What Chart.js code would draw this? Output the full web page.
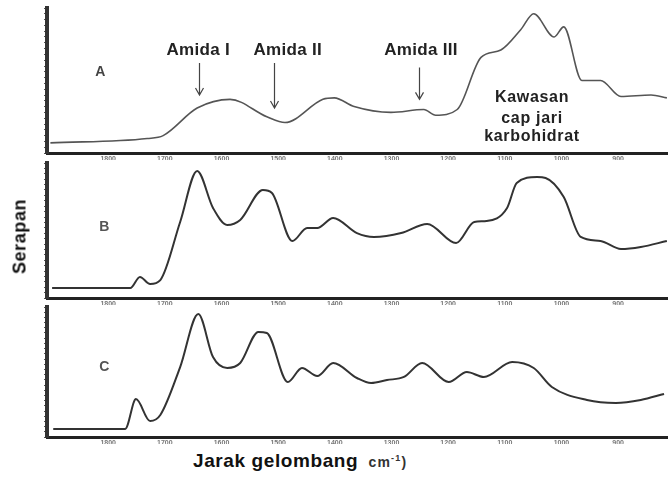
<!DOCTYPE html>
<html>
<head>
<meta charset="utf-8">
<script src="https://cdn.jsdelivr.net/npm/chart.js@4"></script>
<style>
  body { margin: 0; background: #fff; width: 668px; height: 477px; overflow: hidden; position: relative; }
  canvas { position: absolute; left: 0; }
  .ttl { position: absolute; font-family: 'Liberation Sans', Arial, sans-serif; font-weight: bold; color: #111; white-space: nowrap; }
</style>
</head>
<body>
<canvas id="chartA" width="668" height="160" style="top:0px"></canvas>
<canvas id="chartB" width="668" height="150" style="top:155px"></canvas>
<canvas id="chartC" width="668" height="144" style="top:300px"></canvas>
<div class="ttl" style="left:-25px; top:226px; font-size:18px; letter-spacing:0.6px; transform:rotate(-90deg); width:90px; text-align:center;">Serapan</div>
<div class="ttl" style="left:193px; top:450px; font-size:19px; letter-spacing:0.6px;">Jarak gelombang<span style="font-size:14px; color:#333; letter-spacing:1.2px;">&nbsp;&nbsp;cm<sup style="font-size:9px">-1</sup>)</span></div>
<script>
// wavenumber (cm-1) and absorbance, per spectrum
const wnA = [1902, 1731, 1703, 1643, 1585, 1520, 1488, 1421, 1401, 1366, 1301, 1243, 1222, 1184, 1142, 1107, 1072, 1049, 1013, 996, 964, 931, 895, 842, 814];
const absA = [0.07, 0.10, 0.12, 0.31, 0.37, 0.25, 0.21, 0.37, 0.38, 0.32, 0.28, 0.30, 0.26, 0.30, 0.66, 0.71, 0.85, 0.96, 0.80, 0.87, 0.50, 0.50, 0.39, 0.40, 0.38];

const wnB = [1899, 1761, 1744, 1726, 1708, 1673, 1643, 1615, 1590, 1567, 1527, 1511, 1475, 1449, 1431, 1403, 1361, 1331, 1283, 1237, 1186, 1154, 1132, 1096, 1079, 1043, 1028, 996, 966, 931, 895, 860, 814];
const absB = [0.074, 0.074, 0.156, 0.104, 0.133, 0.563, 0.941, 0.667, 0.541, 0.578, 0.80, 0.778, 0.422, 0.519, 0.519, 0.593, 0.481, 0.452, 0.481, 0.548, 0.407, 0.563, 0.570, 0.667, 0.852, 0.896, 0.889, 0.748, 0.452, 0.422, 0.363, 0.378, 0.422];

const wnC = [1897, 1770, 1751, 1726, 1708, 1673, 1641, 1615, 1590, 1567, 1535, 1520, 1483, 1458, 1431, 1403, 1361, 1336, 1308, 1278, 1246, 1199, 1167, 1137, 1087, 1049, 1017, 955, 904, 860, 819];
const absC = [0.062, 0.062, 0.292, 0.123, 0.169, 0.538, 0.946, 0.615, 0.531, 0.569, 0.808, 0.80, 0.423, 0.531, 0.469, 0.569, 0.454, 0.415, 0.438, 0.462, 0.569, 0.423, 0.50, 0.462, 0.577, 0.531, 0.385, 0.285, 0.262, 0.285, 0.331];

const xTicks = [1800, 1700, 1600, 1500, 1400, 1300, 1200, 1100, 1000, 900];

const FONT = "'Liberation Sans', Arial, sans-serif";

// text + arrows drawn in data coordinates
const notes = {
  id: 'notes',
  afterDatasetsDraw(chart, args, opts) {
    const ctx = chart.ctx;
    const x = chart.scales.x, y = chart.scales.y;
    ctx.save();
    ctx.textAlign = 'center';
    ctx.textBaseline = 'middle';
    (opts.texts || []).forEach(t => {
      ctx.font = t.font;
      ctx.letterSpacing = t.spacing || '0px';
      ctx.fillStyle = t.color || '#222';
      ctx.fillText(t.text, x.getPixelForValue(t.wn), y.getPixelForValue(t.v));
    });
    ctx.strokeStyle = '#444';
    ctx.lineWidth = 1.2;
    (opts.arrows || []).forEach(a => {
      const px = Math.round(x.getPixelForValue(a.wn)) + 0.5;
      const y1 = y.getPixelForValue(a.from), y2 = y.getPixelForValue(a.to);
      ctx.beginPath();
      ctx.moveTo(px, y1);
      ctx.lineTo(px, y2);
      ctx.moveTo(px - 4, y2 - 7);
      ctx.lineTo(px, y2);
      ctx.lineTo(px + 4, y2 - 7);
      ctx.stroke();
    });
    ctx.restore();
  }
};

function makeChart(id, wn, abs, padTop, lineColor, lineWidth, noteOpts) {
  const pts = wn.map((w, i) => ({ x: w, y: abs[i] }));
  return new Chart(document.getElementById(id), {
    type: 'line',
    data: {
      datasets: [{
        data: pts,
        borderColor: lineColor,
        borderWidth: lineWidth,
        pointRadius: 0,
        fill: false,
        cubicInterpolationMode: 'monotone'
      }]
    },
    options: {
      responsive: false,
      animation: false,
      layout: { padding: { top: padTop, left: 0, right: 0, bottom: 0 } },
      plugins: { legend: { display: false }, tooltip: { enabled: false }, notes: noteOpts },
      scales: {
        x: {
          type: 'linear',
          reverse: true,
          min: 812,
          max: 1908,
          afterBuildTicks: s => { s.ticks = xTicks.map(v => ({ value: v })); },
          afterFit: s => { s.height = 7; },
          ticks: {
            font: { family: FONT, size: 7, weight: 'bold' },
            color: '#777',
            padding: 0,
            maxRotation: 0,
            callback: v => String(v)
          },
          grid: { drawOnChartArea: false, tickLength: 2, color: '#333' },
          border: { color: '#222', width: 3 }
        },
        y: {
          min: 0,
          max: 1,
          afterBuildTicks: s => {
            const t = [];
            for (let i = 0; i <= 25; i++) t.push({ value: i * 0.04 });
            s.ticks = t;
          },
          afterFit: s => { s.width = 47; },
          ticks: { display: false },
          grid: { drawOnChartArea: false, tickLength: 3, color: '#555' },
          border: { color: '#333', width: 4 }
        }
      }
    },
    plugins: [notes]
  });
}

const amidaFont = 'bold 17px ' + FONT;
const regionFont = 'bold 16px ' + FONT;
const letterFont = 'bold 14px ' + FONT;

makeChart('chartA', wnA, absA, 8, '#555', 1.6, {
  texts: [
    { text: 'A', wn: 1814, v: 0.56, font: letterFont, color: '#444' },
    { text: 'Amida I', wn: 1641, v: 0.71, font: amidaFont, spacing: '0.3px' },
    { text: 'Amida II', wn: 1483, v: 0.71, font: amidaFont, spacing: '0.3px' },
    { text: 'Amida III', wn: 1248, v: 0.71, font: amidaFont, spacing: '0.3px' },
    { text: 'Kawasan', wn: 1052, v: 0.38, font: regionFont, spacing: '0.7px' },
    { text: 'cap jari', wn: 1052, v: 0.24, font: regionFont, spacing: '0.7px' },
    { text: 'karbohidrat', wn: 1052, v: 0.11, font: regionFont, spacing: '0.7px' }
  ],
  arrows: [
    { wn: 1640, from: 0.62, to: 0.40 },
    { wn: 1507, from: 0.62, to: 0.31 },
    { wn: 1251, from: 0.59, to: 0.37 }
  ]
});

makeChart('chartB', wnB, absB, 8, '#333', 2, {
  texts: [{ text: 'B', wn: 1807, v: 0.526, font: letterFont, color: '#555' }]
});

makeChart('chartC', wnC, absC, 7, '#333', 2, {
  texts: [{ text: 'C', wn: 1807, v: 0.54, font: letterFont, color: '#555' }]
});
</script>
</body>
</html>
